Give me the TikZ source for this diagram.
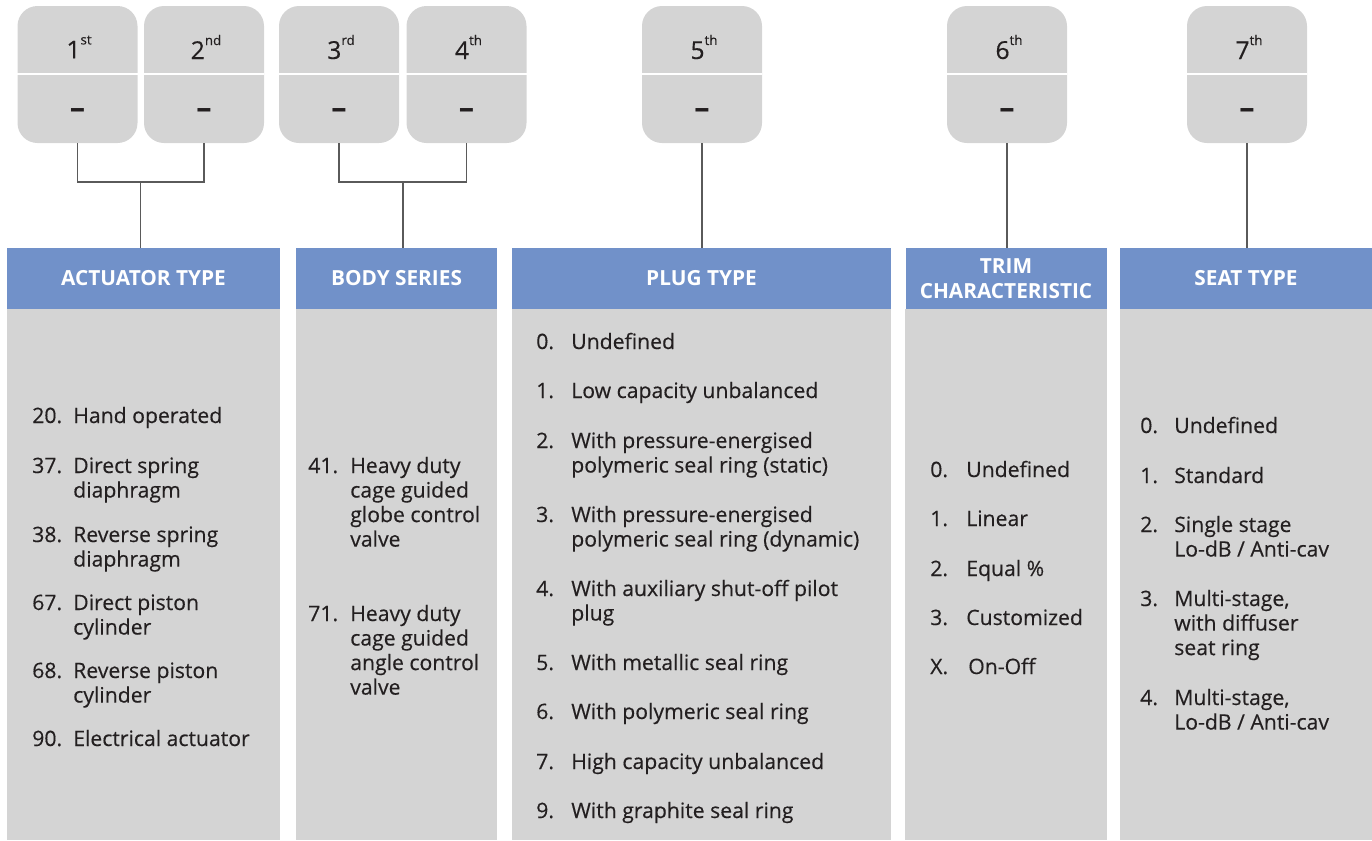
\documentclass[tikz,border=0pt]{standalone}
\usepackage{fontspec}
\setmainfont{Open Sans}[UprightFeatures={FakeBold=0.35}]
\usepackage{xcolor}
\usepackage{tikz}
\usetikzlibrary{positioning}

\definecolor{hdrblue}{HTML}{7191C9}
\definecolor{panelgray}{HTML}{D4D4D4}
\definecolor{linegray}{HTML}{5A5A5A}
\definecolor{inkdark}{HTML}{231F20}

\newlength{\px}
\setlength{\px}{0.75pt}
\newcommand{\ordnum}[2]{#1\raisebox{10.5pt}{\fontsize{10}{10}\selectfont #2}}
\newcommand{\stack}[1]{\begin{tabular}[t]{@{}l@{}}#1\end{tabular}}

\begin{document}
\begin{tikzpicture} [x=\px, y=-\px,
          digit/.style = {fill=panelgray, rounded corners=20\px,
              minimum width=120\px, minimum height=137\px, inner sep=0pt},
          ordlabel/.style = {text=inkdark, inner sep=0pt, font=\fontsize{18.5}{20}\selectfont},
          dashmark/.style = {text=inkdark, inner sep=0pt, font=\fontsize{23}{23}\selectfont\bfseries},
          head/.style = {fill=hdrblue, text=white, align=center, inner sep=0pt,
              minimum height=61\px, font=\fontsize{15.6}{18.5}\selectfont\bfseries},
          num/.style = {anchor=base west, inner sep=0pt, text=inkdark,
              font=\fontsize{15.9}{18.4}\selectfont},
          txt/.style = {num},
          link/.style = {draw=linegray, line width=1.5\px}
          ]

          \useasboundingbox (0,0) rectangle (1372,840);

          % Code positions
          \node (d1) [digit] at (77.5,74.5) {};
          \node (d2) [digit] at (204,74.5) {};
          \node (d3) [digit] at (339,74.5) {};
          \node (d4) [digit] at (466.5,74.5) {};
          \node (d5) [digit] at (702,74.5) {};
          \node (d6) [digit] at (1007,74.5) {};
          \node (d7) [digit] at (1247,74.5) {};

          \foreach \d in {d1,d2,d3,d4,d5,d6,d7}
            \draw [white, line width=2\px] (\d.west |- 0,74) -- (\d.east |- 0,74);

          \node (p1) [ordlabel] at (79,47) {\ordnum{1}{st}};
          \node (p2) [ordlabel] at (206,47) {\ordnum{2}{nd}};
          \node (p3) [ordlabel] at (341,47) {\ordnum{3}{rd}};
          \node (p4) [ordlabel] at (468.5,47) {\ordnum{4}{th}};
          \node (p5) [ordlabel] at (704,47) {\ordnum{5}{th}};
          \node (p6) [ordlabel] at (1009,47) {\ordnum{6}{th}};
          \node (p7) [ordlabel] at (1249,47) {\ordnum{7}{th}};

          \node (m1) [dashmark] at (77.5,114) {–};
          \node (m2) [dashmark] at (204,114) {–};
          \node (m3) [dashmark] at (339,114) {–};
          \node (m4) [dashmark] at (466.5,114) {–};
          \node (m5) [dashmark] at (702,114) {–};
          \node (m6) [dashmark] at (1007,114) {–};
          \node (m7) [dashmark] at (1247,114) {–};

          % Headers
          \node (hAct) [head, minimum width=273\px] at (143.5,278.5) {ACTUATOR TYPE};
          \node (hBody) [head, minimum width=201\px] at (396.5,278.5) {BODY SERIES};
          \node (hPlug) [head, minimum width=379\px] at (701.5,278.5) {PLUG TYPE};
          \node (hTrim) [head, minimum width=201\px] at (1006,278.5) {TRIM\\CHARACTERISTIC};
          \node (hSeat) [head, minimum width=252\px] at (1246,278.5) {SEAT TYPE};

          % Panels
          \foreach \h in {hAct,hBody,hPlug,hTrim,hSeat}
            \fill [panelgray] (\h.south west) rectangle (\h.east |- 0,840);

          % Links
          \coordinate (j12) at (140.5,182);
          \coordinate (j34) at (403,182);
          \draw [link] (d1.south) |- (j12) -| (d2.south);
          \draw [link] (j12) -- (j12 |- hAct.north);
          \draw [link] (d3.south) |- (j34) -| (d4.south);
          \draw [link] (j34) -- (j34 |- hBody.north);
          \draw [link] (d5.south) -- (hPlug.north -| d5.south);
          \draw [link] (d6.south) -- (hTrim.north -| d6.south);
          \draw [link] (d7.south) -- (hSeat.north -| d7.south);

          % Actuator type
          \node (a20n) [num] at (32,423) {20.};
          \node (a20) [txt] at (73,423) {Hand operated};
          \node (a37n) [num] at (32,473) {37.};
          \node (a37) [txt] at (73,473) {\stack{Direct spring\\diaphragm}};
          \node (a38n) [num] at (32,542) {38.};
          \node (a38) [txt] at (73,542) {\stack{Reverse spring\\diaphragm}};
          \node (a67n) [num] at (32,610) {67.};
          \node (a67) [txt] at (73,610) {\stack{Direct piston\\cylinder}};
          \node (a68n) [num] at (32,678) {68.};
          \node (a68) [txt] at (73,678) {\stack{Reverse piston\\cylinder}};
          \node (a90n) [num] at (32,746) {90.};
          \node (a90) [txt] at (73,746) {Electrical actuator};

          % Body series
          \node (b41n) [num] at (308,473) {41.};
          \node (b41) [txt] at (350,473) {\stack{Heavy duty\\cage guided\\globe control\\valve}};
          \node (b71n) [num] at (308,621) {71.};
          \node (b71) [txt] at (350,621) {\stack{Heavy duty\\cage guided\\angle control\\valve}};

          % Plug type
          \node (c0n) [num] at (536,349) {0.};
          \node (c0) [txt] at (571,349) {Undefined};
          \node (c1n) [num] at (536,398) {1.};
          \node (c1) [txt] at (571,398) {Low capacity unbalanced};
          \node (c2n) [num] at (536,448) {2.};
          \node (c2) [txt] at (571,448) {\stack{With pressure-energised\\polymeric seal ring (static)}};
          \node (c3n) [num] at (536,522) {3.};
          \node (c3) [txt] at (571,522) {\stack{With pressure-energised\\polymeric seal ring (dynamic)}};
          \node (c4n) [num] at (536,596) {4.};
          \node (c4) [txt] at (571,596) {\stack{With auxiliary shut-off pilot\\plug}};
          \node (c5n) [num] at (536,670) {5.};
          \node (c5) [txt] at (571,670) {With metallic seal ring};
          \node (c6n) [num] at (536,719) {6.};
          \node (c6) [txt] at (571,719) {With polymeric seal ring};
          \node (c7n) [num] at (536,769) {7.};
          \node (c7) [txt] at (571,769) {High capacity unbalanced};
          \node (c9n) [num] at (536,818) {9.};
          \node (c9) [txt] at (571,818) {With graphite seal ring};

          % Trim characteristic
          \node (t0n) [num] at (930,477) {0.};
          \node (t0) [txt] at (966,477) {Undefined};
          \node (t1n) [num] at (930,526) {1.};
          \node (t1) [txt] at (966,526) {Linear};
          \node (t2n) [num] at (930,576) {2.};
          \node (t2) [txt] at (966,576) {Equal \%};
          \node (t3n) [num] at (930,625) {3.};
          \node (t3) [txt] at (966,625) {Customized};
          \node (tXn) [num] at (930,674) {X.};
          \node (tX) [txt] at (968,674) {On-Off};

          % Seat type
          \node (s0n) [num] at (1140,433) {0.};
          \node (s0) [txt] at (1174,433) {Undefined};
          \node (s1n) [num] at (1140,483) {1.};
          \node (s1) [txt] at (1174,483) {Standard};
          \node (s2n) [num] at (1140,532) {2.};
          \node (s2) [txt] at (1174,532) {\stack{Single stage\\Lo-dB / Anti-cav}};
          \node (s3n) [num] at (1140,606) {3.};
          \node (s3) [txt] at (1174,606) {\stack{Multi-stage,\\with diffuser\\seat ring}};
          \node (s4n) [num] at (1140,705) {4.};
          \node (s4) [txt] at (1174,705) {\stack{Multi-stage,\\Lo-dB / Anti-cav}};

\end{tikzpicture}
\end{document}
